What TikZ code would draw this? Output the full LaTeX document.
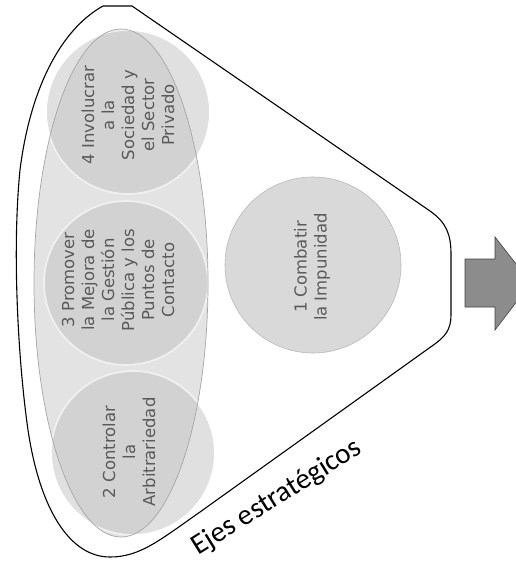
\documentclass[tikz,border=0pt]{standalone}
\usepackage{fontspec}
\setmainfont{DejaVu Sans}
\newfontfamily\carl{Carlito}
\definecolor{discfill}{HTML}{E0E0E0}
\definecolor{onefill}{HTML}{D9D9D9}
\definecolor{ellfill}{HTML}{F2F2F2}
\definecolor{txtgray}{HTML}{5A5A5A}
\definecolor{arrowgray}{HTML}{8C8C8C}
\begin{document}
\begin{tikzpicture}[x=1pt,y=-1pt,
  disc/.style={circle, fill=discfill, draw=white, line width=1.8pt, minimum size=164pt, inner sep=0pt},
  disctext/.style={rotate=90, align=center, text=txtgray, inner sep=0pt, font=\fontsize{16.5}{20}\selectfont},
  outline/.style={draw=black, line width=1.1pt, line join=round},
  ellip/.style={draw=gray!70, line width=0.7pt, fill=black, fill opacity=0.06, draw opacity=1},
  blockarrow/.style={fill=arrowgray, draw=black!75, line width=0.6pt, line join=miter},
]
\useasboundingbox (0,0) rectangle (516,562);
\clip (0,0) rectangle (516,562);

% funnel outline
\draw[outline] (103,6) -- (132,6) -- (430,211)
  .. controls (447,223) and (451,235) .. (451,255) -- (451,315)
  .. controls (451,330) and (445,337) .. (432,346) -- (200,512)
  .. controls (160,540) and (140,557) .. (110,557)
  .. controls (70,557) and (40,510) .. (28,430)
  .. controls (18,360) and (12,250) .. (20,170)
  .. controls (30,90) and (60,30) .. (103,6) -- cycle;

% ellipse background
\fill[ellfill] (121,283) ellipse [x radius=87, y radius=254];

% the three discs
\node[disc] (d4) at (128,112) {};
\node[disc] (d3) at (126,283) {};
\node[disc] (d2) at (133,453) {};

% ellipse overlay
\path[ellip] (121,283) ellipse [x radius=87, y radius=254];

% texts of the discs
\node[disctext] (t4) at (128,115) {4 Involucrar\\a la\\Sociedad y\\el Sector\\Privado};
\node[disctext] (t3) at (118,280) {3 Promover\\la Mejora de\\la Gestión\\Pública y los\\Puntos de\\Contacto};
\node[disctext] (t2) at (129,452) {2 Controlar\\la\\Arbitrariedad};

% disc 1
\node[circle, fill=onefill, draw=gray!55, line width=0.6pt, minimum size=176pt, inner sep=0pt] (d1) at (313,265) {};
\node[disctext] (t1) at (312,267) {1 Combatir\\la Impunidad};

% block arrow (partly cut by the right edge)
\draw[blockarrow] (465,259) -- (495,259) -- (495,237) -- (531,283) -- (495,330) -- (495,307) -- (465,307) -- cycle;

% caption
\node[font=\carl\fontsize{29}{32}\selectfont, rotate=32, anchor=base, inner sep=0pt] (cap) at (281,504) {Ejes estratégicos};
\end{tikzpicture}
\end{document}
